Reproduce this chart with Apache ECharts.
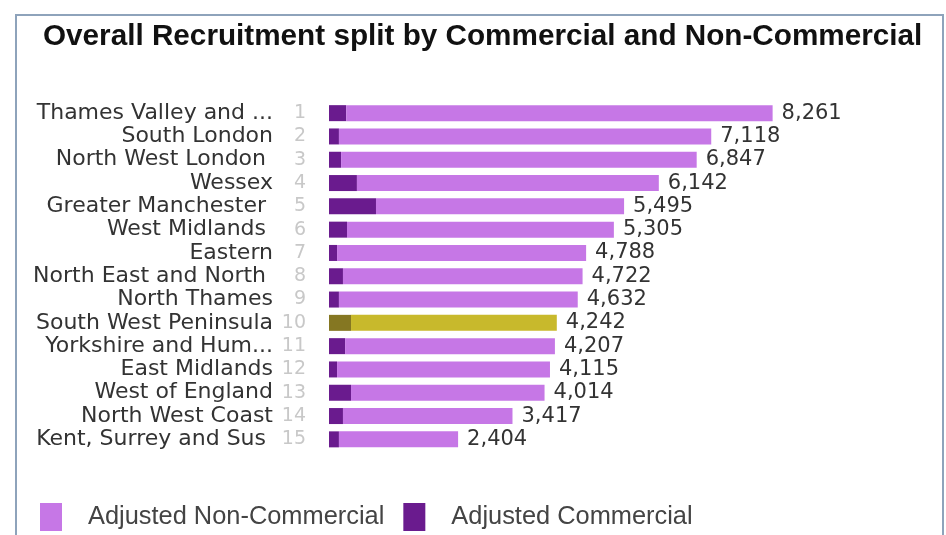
<!DOCTYPE html>
<html>
<head>
<meta charset="utf-8">
<script src="https://cdn.jsdelivr.net/npm/echarts@6/dist/echarts.min.js"></script>
<style>
  html, body { margin: 0; padding: 0; background: #fff; }
  #chart { width: 946px; height: 535px; }
</style>
</head>
<body>
<div id="chart"></div>
<script>
// Regions ranked by overall recruitment
const regions = [
  'Thames Valley and ...', 'South London', 'North West London ', 'Wessex',
  'Greater Manchester ', 'West Midlands ', 'Eastern', 'North East and North ',
  'North Thames', 'South West Peninsula', 'Yorkshire and Hum...', 'East Midlands',
  'West of England', 'North West Coast', 'Kent, Surrey and Sus '
];
const ranks = ['1','2','3','4','5','6','7','8','9','10','11','12','13','14','15'];
// Total recruitment per region (commercial + non-commercial)
const totals = [8261, 7118, 6847, 6142, 5495, 5305, 4788, 4722, 4632, 4242, 4207, 4115, 4014, 3417, 2404];
// Adjusted commercial recruitment per region
const commercial = [320, 185, 225, 520, 875, 335, 150, 260, 185, 410, 300, 150, 410, 260, 185];
// Adjusted non-commercial recruitment is the remainder of each total
const nonCommercial = totals.map((t, i) => t - commercial[i]);

const highlightIndex = 9;
const colNonCom = '#c677e6';
const colCom = '#6a1b8e';
const colNonComHi = '#c8b92c';
const colComHi = '#857722';

const fmt = v => String(v).replace(/\B(?=(\d{3})+(?!\d))/g, ',');

const chart = echarts.init(document.getElementById('chart'));
chart.setOption({
  animation: false,
  backgroundColor: '#fff',
  title: {
    text: 'Overall Recruitment split by Commercial and Non-Commercial',
    left: 38,
    top: 17,
    textStyle: { fontFamily: 'Liberation Sans', fontSize: 29.7, fontWeight: 'bold', color: '#111' }
  },
  graphic: [{
    type: 'rect',
    shape: { x: 16, y: 15, width: 927, height: 540 },
    style: { fill: 'none', stroke: '#8ea3bb', lineWidth: 2 },
    z: -1
  }],
  legend: {
    data: ['Adjusted Non-Commercial', 'Adjusted Commercial'],
    left: 40,
    top: 503,
    icon: 'rect',
    itemWidth: 22,
    itemHeight: 28,
    itemGap: 19,
    padding: 0,
    textStyle: { fontFamily: 'Liberation Sans', fontSize: 25.4, color: '#444', padding: [0, 0, 0, 21] }
  },
  grid: {
    left: 329, right: 80, top: 101.5, bottom: 84,
    outerBoundsMode: 'none'
  },
  xAxis: {
    type: 'value', min: 0, max: 10000,
    show: false
  },
  yAxis: [{
    type: 'category',
    data: regions,
    inverse: true,
    position: 'left',
    axisLine: { show: false },
    axisTick: { show: false },
    axisLabel: { interval: 0, margin: 56, fontFamily: 'DejaVu Sans', fontSize: 22, color: '#333' }
  }, {
    type: 'category',
    data: ranks,
    inverse: true,
    position: 'left',
    offset: 0,
    axisLine: { show: false },
    axisTick: { show: false },
    axisLabel: { interval: 0, margin: 23, fontFamily: 'DejaVu Sans', fontSize: 19, color: '#c8c8c8' }
  }],
  series: [{
    name: 'Adjusted Commercial',
    type: 'bar',
    stack: 'total',
    barWidth: 16,
    itemStyle: { color: colCom },
    data: commercial.map((v, i) => i === highlightIndex ? { value: v, itemStyle: { color: colComHi } } : v)
  }, {
    name: 'Adjusted Non-Commercial',
    type: 'bar',
    stack: 'total',
    barWidth: 16,
    itemStyle: { color: colNonCom },
    label: {
      show: true,
      position: 'right',
      distance: 9,
      fontFamily: 'DejaVu Sans',
      fontSize: 21,
      color: '#333',
      formatter: p => fmt(totals[p.dataIndex])
    },
    data: nonCommercial.map((v, i) => i === highlightIndex ? { value: v, itemStyle: { color: colNonComHi } } : v)
  }]
});
</script>
</body>
</html>
